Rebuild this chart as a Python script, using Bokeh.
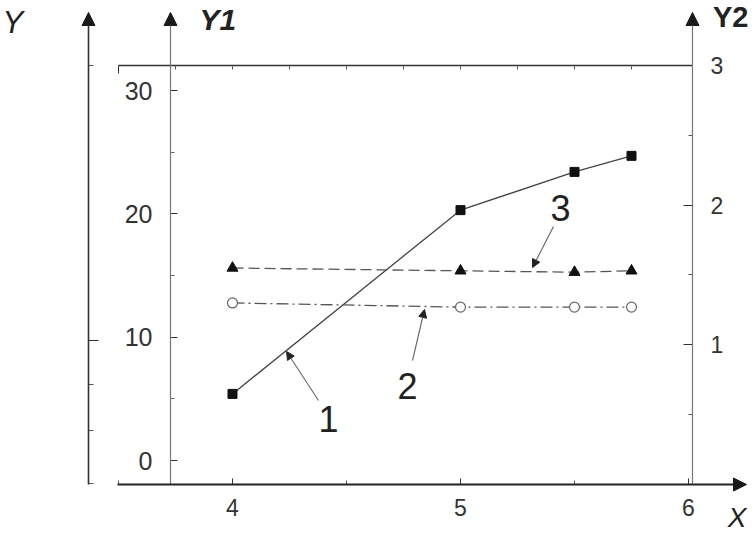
from bokeh.plotting import figure
from bokeh.models import (LinearAxis, Range1d, FixedTicker, Arrow, NormalHead,
                          Label, ColumnDataSource)
from bokeh.embed import file_html
from bokeh.resources import INLINE

# ---------------- data ----------------
x_values = [4.0, 5.0, 5.5, 5.75]
curve1_y1 = [5.4, 20.3, 23.4, 24.7]      # curve 1 (squares), left scale Y1
curve2_y2 = [1.30, 1.27, 1.27, 1.27]     # curve 2 (open circles), right scale Y2
curve3_y2 = [1.55, 1.53, 1.52, 1.53]     # curve 3 (triangles), right scale Y2

y1_ticks = [0, 10, 20, 30]
y1_minor = [5, 15, 25]
y2_ticks = [1, 2, 3]
y2_minor = [0.5, 1.5, 2.5]
x_ticks = [4, 5, 6]
x_minor = [3.5, 4.5, 5.5]
top_major = [3.5]
top_minor = [3.75, 4.0, 4.25, 4.5, 4.75, 5.0, 5.25, 5.5, 5.75]
outer_major = [9.7]
outer_minor = [-1.9, 2.4, 6.2, 32.0]

FONT = "Liberation Sans"
INK = "#222222"
W, H = 750, 536

# pixel helpers (image pixels -> data), for annotation placement only
def dx(px):
    return 4 + (px - 232) / 228.0

def dy(py):
    return (460 - py) / 12.3333

def dy2(py):
    return (484 - py) / 139.667

p = figure(width=W, height=H, x_axis_type=None, y_axis_type=None,
           toolbar_location=None, output_backend="svg", min_border=0,
           x_range=Range1d(dx(0), dx(W)), y_range=Range1d(dy(H), dy(0)))
p.extra_y_ranges = {"y2": Range1d(dy2(H), dy2(0))}
p.outline_line_color = None
p.background_fill_color = "white"
p.border_fill_color = "white"

X_AXIS_Y = dy(484)
Y1_X = dx(170)
OUT_X = dx(88)
Y2_X = dx(692)
TOP_Y = dy(65)

common = dict(major_label_text_font=FONT, major_label_text_color="#333333",
              major_tick_out=0, minor_tick_out=0, axis_line_color=None)

# outer Y axis (no labels)
ax_out = LinearAxis(fixed_location=OUT_X,
                    ticker=FixedTicker(ticks=outer_major, minor_ticks=outer_minor),
                    major_tick_in=10, minor_tick_in=5,
                    major_tick_line_color="#333333", minor_tick_line_color="#555555",
                    major_label_text_color=None, major_label_text_font_size="1px",
                    axis_line_color=None, major_tick_out=0, minor_tick_out=0)
p.add_layout(ax_out, "left")

# Y1 axis
ax_y1 = LinearAxis(fixed_location=Y1_X,
                   ticker=FixedTicker(ticks=y1_ticks, minor_ticks=y1_minor),
                   major_tick_in=7, minor_tick_in=4,
                   major_tick_line_color="#333333", minor_tick_line_color="#666666",
                   major_label_text_font_size="25px", major_label_standoff=18,
                   **common)
p.add_layout(ax_y1, "left")

# Y2 axis
ax_y2 = LinearAxis(y_range_name="y2", fixed_location=Y2_X,
                   ticker=FixedTicker(ticks=y2_ticks, minor_ticks=y2_minor),
                   major_tick_in=9, minor_tick_in=4,
                   major_tick_line_color="#333333", minor_tick_line_color="#555555",
                   major_label_text_font_size="23px", major_label_standoff=18,
                   **common)
p.add_layout(ax_y2, "right")

# X axis
ax_x = LinearAxis(fixed_location=X_AXIS_Y,
                  ticker=FixedTicker(ticks=x_ticks, minor_ticks=x_minor),
                  major_tick_in=6, minor_tick_in=4,
                  major_tick_line_color="#333333", minor_tick_line_color="#555555",
                  major_label_text_font_size="23px", major_label_standoff=14,
                  **common)
p.add_layout(ax_x, "below")

# top frame line with ticks
ax_top = LinearAxis(fixed_location=TOP_Y, bounds=(3.5, Y2_X),
                    ticker=FixedTicker(ticks=top_major, minor_ticks=top_minor),
                    major_tick_in=8, minor_tick_in=4, major_tick_out=0, minor_tick_out=0,
                    axis_line_color="#333333", axis_line_width=1.5,
                    major_tick_line_color="#333333", minor_tick_line_color="#555555",
                    major_label_text_color=None, major_label_text_font_size="1px")
p.add_layout(ax_top, "above")

# axis lines with arrow heads
def head(sz=13):
    return NormalHead(size=sz, fill_color="#1a1a1a", line_color="#1a1a1a")

p.add_layout(Arrow(x_start=OUT_X, y_start=X_AXIS_Y, x_end=OUT_X, y_end=dy(12),
                   end=head(), line_color="#333333", line_width=1.6))
p.add_layout(Arrow(x_start=Y1_X, y_start=X_AXIS_Y, x_end=Y1_X, y_end=dy(12),
                   end=head(), line_color="#777777", line_width=1.2))
p.add_layout(Arrow(x_start=Y2_X, y_start=0, x_end=Y2_X, y_end=dy2(12), y_range_name="y2",
                   end=head(), line_color="#777777", line_width=1.2))
p.add_layout(Arrow(x_start=dx(117), y_start=X_AXIS_Y, x_end=dx(746), y_end=X_AXIS_Y,
                   end=head(), line_color="#222222", line_width=1.8))

# ---------------- series ----------------
src = ColumnDataSource(dict(x=x_values, c1=curve1_y1, c2=curve2_y2, c3=curve3_y2))

p.line("x", "c1", source=src, line_color="#444444", line_width=1.3)
p.scatter("x", "c1", source=src, marker="square", size=9,
          fill_color="#111111", line_color="#111111")

p.line("x", "c3", source=src, y_range_name="y2", line_color="#555555",
       line_width=1.3, line_dash="11 5")
p.scatter("x", "c3", source=src, y_range_name="y2", marker="triangle", size=11,
          fill_color="#111111", line_color="#111111")

p.line("x", "c2", source=src, y_range_name="y2", line_color="#555555",
       line_width=1.3, line_dash="12 4 2 4")
p.scatter("x", "c2", source=src, y_range_name="y2", marker="circle", size=10,
          fill_color="white", line_color="#666666", line_width=1.2)

# ---------------- curve labels with pointers ----------------
def pointer(x0, y0, x1, y1):
    p.add_layout(Arrow(x_start=dx(x0), y_start=dy(y0), x_end=dx(x1), y_end=dy(y1),
                       end=NormalHead(size=8, fill_color="#222222", line_color="#222222"),
                       line_color="#666666", line_width=1.1))

pointer(318, 400, 286, 351)
pointer(412, 360, 424, 309)
pointer(553, 226, 532, 267)

for txt, cx, cy in [("1", 328, 418), ("2", 407, 385), ("3", 560, 207)]:
    p.add_layout(Label(x=dx(cx), y=dy(cy), text=txt, text_font=FONT,
                       text_font_size="36px", text_align="center",
                       text_baseline="middle", text_color=INK))

# axis titles (centred vertically on the glyphs)
def title(txt, px, py, align, style, size):
    p.add_layout(Label(x=dx(px), y=dy(py), text=txt, text_font=FONT,
                       text_font_size=size, text_font_style=style,
                       text_align=align, text_baseline="middle", text_color=INK))

title("Y", 2, 22, "left", "italic", "31px")
title("Y1", 199, 19, "left", "bold italic", "30px")
title("Y2", 748, 16, "right", "bold", "29px")
title("X", 746, 517, "right", "italic", "28px")

open("out.html", "w").write(file_html(p, INLINE))
